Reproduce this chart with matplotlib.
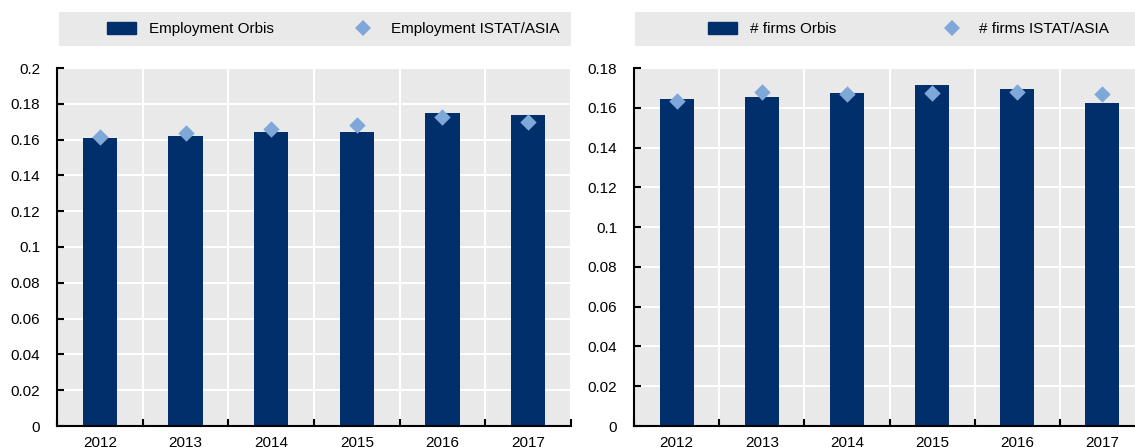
import matplotlib.pyplot as plt
from matplotlib.patches import Patch
from matplotlib.lines import Line2D
import numpy as np

plt.rcParams['font.family'] = ['Liberation Sans', 'DejaVu Sans']

years = ['2012', '2013', '2014', '2015', '2016', '2017']

emp_orbis = [0.161, 0.162, 0.164, 0.164, 0.175, 0.174]
emp_istat = [0.1614, 0.1637, 0.166, 0.168, 0.1725, 0.170]

firms_orbis = [0.1643, 0.1654, 0.1674, 0.1715, 0.1694, 0.1623]
firms_istat = [0.1633, 0.168, 0.167, 0.1672, 0.168, 0.167]

bar_color = '#002F6C'
dot_color = '#7FA7D8'
bg_color = '#E9E9E9'

fig = plt.figure(figsize=(11.35, 4.47), dpi=100)


def draw_panel(ax, bars, dots, ymax, yticks, ylabels):
    x = np.arange(len(years))
    ax.set_facecolor(bg_color)
    ax.bar(x, bars, width=0.4, color=bar_color, zorder=3)
    ax.scatter(x, dots, marker='D', s=70, color=dot_color, zorder=4, linewidths=0)
    ax.set_xlim(-0.5, len(years) - 0.5)
    ax.set_ylim(0, ymax)
    ax.set_yticks(yticks)
    ax.set_yticklabels(ylabels)
    # category boundaries carry the ticks and the vertical grid
    ax.set_xticks(np.arange(len(years) + 1) - 0.5)
    ax.set_xticklabels([])
    ax.set_xticks(x, minor=True)
    ax.set_xticklabels(years, minor=True)
    ax.tick_params(axis='x', which='minor', length=0, pad=7, labelsize=11)
    ax.tick_params(axis='x', which='major', direction='in', length=5, width=1.5)
    ax.tick_params(axis='y', direction='in', length=5, width=1.5, pad=12, labelsize=11)
    ax.grid(True, which='major', color='white', linewidth=1.5, zorder=0)
    ax.set_axisbelow(True)
    for s in ['top', 'right']:
        ax.spines[s].set_visible(False)
    for s in ['left', 'bottom']:
        ax.spines[s].set_linewidth(1.5)
        ax.spines[s].set_zorder(5)


def draw_legend(lax, bar_label, dot_label, start, spacing):
    lax.set_facecolor(bg_color)
    lax.set_xticks([])
    lax.set_yticks([])
    for s in lax.spines.values():
        s.set_visible(False)
    handles = [Patch(color=bar_color, label=bar_label),
               Line2D([], [], marker='D', linestyle='none', markersize=8,
                      color=dot_color, markeredgewidth=0, label=dot_label)]
    lax.legend(handles=handles, loc='center left', bbox_to_anchor=(start, 0.5),
               ncol=2, frameon=False, borderpad=0, borderaxespad=0,
               fontsize=11, handlelength=1.9, handleheight=0.85,
               handletextpad=0.85, columnspacing=spacing)


ax1 = fig.add_axes([57 / 1135, 21 / 447, 514 / 1135, 358 / 447])
draw_panel(ax1, emp_orbis, emp_istat, 0.2,
           np.arange(0, 0.201, 0.02),
           ['0', '0.02', '0.04', '0.06', '0.08', '0.1', '0.12', '0.14', '0.16', '0.18', '0.2'])

ax2 = fig.add_axes([634 / 1135, 21 / 447, 511 / 1135, 358 / 447])
draw_panel(ax2, firms_orbis, firms_istat, 0.18,
           np.arange(0, 0.181, 0.02),
           ['0', '0.02', '0.04', '0.06', '0.08', '0.1', '0.12', '0.14', '0.16', '0.18'])

lax1 = fig.add_axes([59 / 1135, 401 / 447, 512 / 1135, 34 / 447])
draw_legend(lax1, 'Employment Orbis', 'Employment ISTAT/ASIA', 0.094, 4.9)

lax2 = fig.add_axes([635 / 1135, 401 / 447, 500 / 1135, 34 / 447])
draw_legend(lax2, '# firms Orbis', '# firms ISTAT/ASIA', 0.146, 6.6)

fig.savefig('out.png', dpi=100)
